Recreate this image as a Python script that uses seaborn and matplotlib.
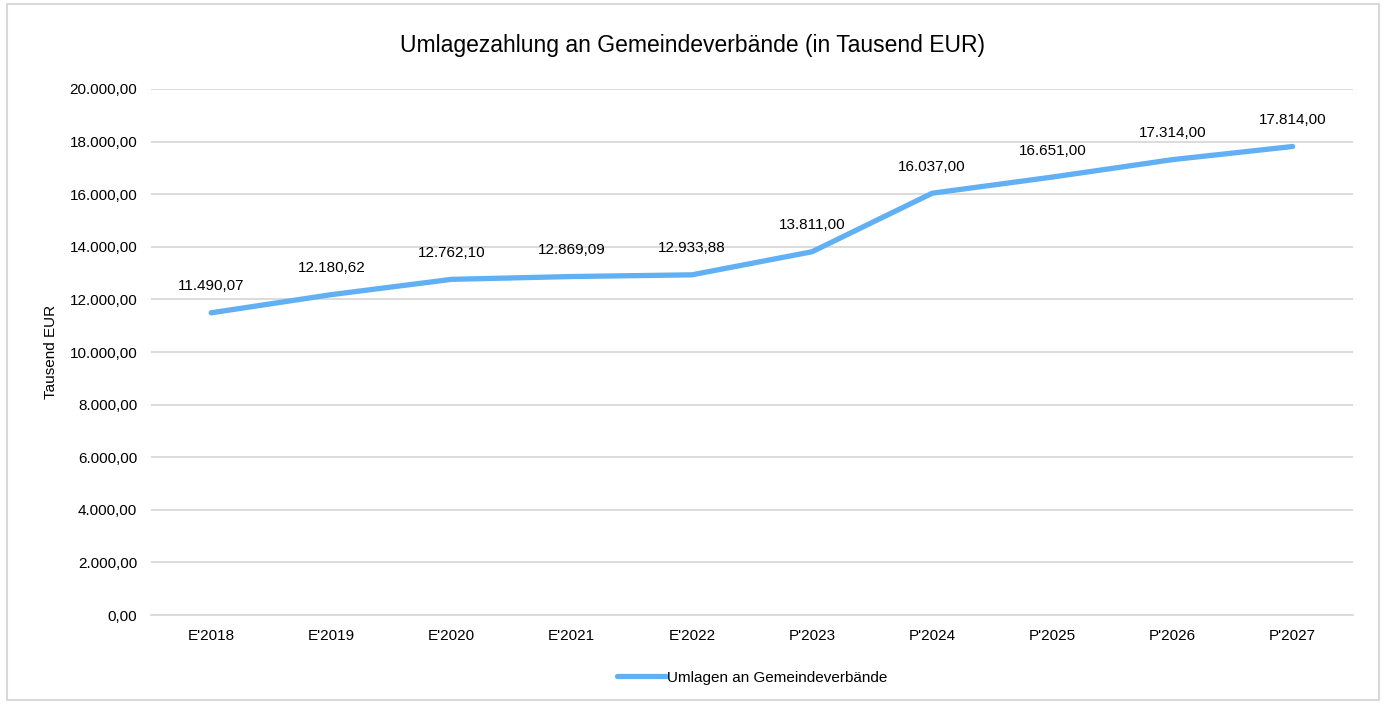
import pandas as pd
import seaborn as sns
import matplotlib.pyplot as plt
from matplotlib.patches import Rectangle

jahre = ["E'2018", "E'2019", "E'2020", "E'2021", "E'2022", "P'2023", "P'2024", "P'2025", "P'2026", "P'2027"]
umlagen = [11490.07, 12180.62, 12762.10, 12869.09, 12933.88, 13811.00, 16037.00, 16651.00, 17314.00, 17814.00]

sns.set_style("white")
plt.rcParams['font.family'] = ['Liberation Sans', 'DejaVu Sans']
plt.rcParams['text.color'] = '#000000'
plt.rcParams['axes.labelcolor'] = '#000000'


def de_fmt(v):
    s = f"{v:,.2f}"
    return s.replace(",", "X").replace(".", ",").replace("X", ".")


df = pd.DataFrame({"Jahr": jahre, "Wert": umlagen})

fig = plt.figure(figsize=(13.86, 7.04), dpi=100)
ax = fig.add_axes([0.109, 0.1264, 0.867, 0.7472])
fig.patches.append(Rectangle((0.005, 0.005), 0.99, 0.99, transform=fig.transFigure,
                             fill=False, edgecolor='#D9D9D9', linewidth=1.5))

sns.lineplot(data=df, x="Jahr", y="Wert", ax=ax, color='#62B0F4', linewidth=3.8,
             sort=False, label="Umlagen an Gemeindeverbände", solid_capstyle='round')

for i, v in enumerate(umlagen):
    ax.annotate(de_fmt(v), (i, v), xytext=(0, 14), textcoords='offset points',
                ha='center', va='bottom', fontsize=11, color='#000000')

ax.set_xlim(-0.5, len(jahre) - 0.5)
ax.set_ylim(0, 20000)
ax.set_yticks(range(0, 20001, 2000))
ax.set_yticklabels([de_fmt(t) for t in range(0, 20001, 2000)])
ax.yaxis.grid(True, color='#D9D9D9', linewidth=1.3)
ax.set_axisbelow(True)
for s in ax.spines.values():
    s.set_visible(False)
ax.spines['bottom'].set_visible(True)
ax.spines['bottom'].set_color('#D9D9D9')
ax.spines['bottom'].set_linewidth(1.3)
ax.tick_params(axis='both', length=0, labelsize=11, colors='#000000', pad=10)
ax.set_xlabel("")
ax.set_ylabel("Tausend EUR", fontsize=11, labelpad=8)
fig.suptitle("Umlagezahlung an Gemeindeverbände (in Tausend EUR)", fontsize=16.5, y=0.952,
             color='#000000')

ax.legend(loc='upper center', bbox_to_anchor=(0.5, -0.08), frameon=False, fontsize=11,
          handlelength=3.2, handletextpad=0.05)

fig.savefig("out.png", dpi=100)
